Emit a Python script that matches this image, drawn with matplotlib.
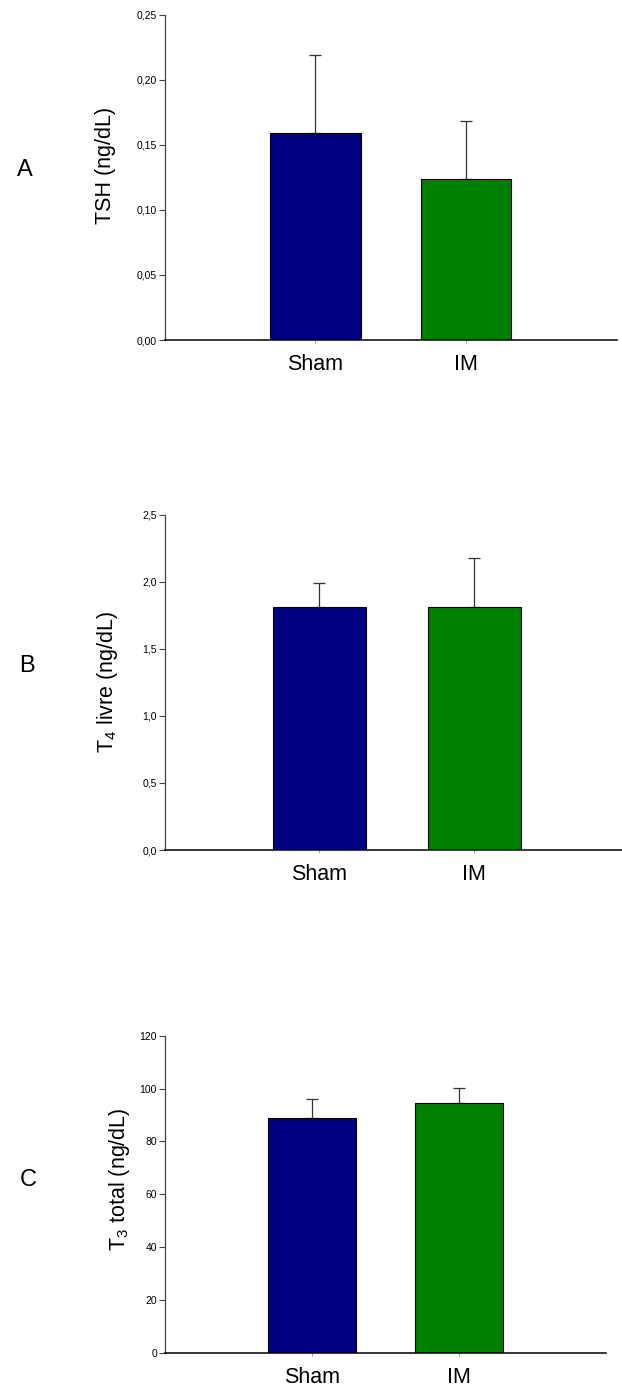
import numpy as np
import matplotlib.pyplot as plt

plt.rcParams['font.family'] = ['Liberation Sans', 'DejaVu Sans']
plt.rcParams['mathtext.fontset'] = 'custom'
plt.rcParams['mathtext.rm'] = 'Liberation Sans'
plt.rcParams['mathtext.it'] = 'Liberation Sans'
plt.rcParams['mathtext.default'] = 'regular'

# DADOS
groups = ['Sham', 'IM']
colors = ['#000080', '#008000']

tsh_mean = [0.159, 0.124]
tsh_err = [0.060, 0.044]

t4_mean = [1.81, 1.81]
t4_err = [0.18, 0.37]

t3_mean = [89.0, 94.4]
t3_err = [7.0, 5.7]

panels = [
    ('A', tsh_mean, tsh_err, 'TSH (ng/dL)', [0, 0.25], np.arange(0, 0.26, 0.05), '{:.2f}',
     [0.2645, 0.755, 0.7275, 0.2344], (105, 165), (25, 170)),
    ('B', t4_mean, t4_err, 'T$_4$ livre (ng/dL)', [0, 2.5], np.arange(0, 2.6, 0.5), '{:.1f}',
     [0.2645, 0.3876, 0.7468, 0.2414], (107, 682), (27, 666)),
    ('C', t3_mean, t3_err, 'T$_3$ total (ng/dL)', [0, 120], np.arange(0, 121, 20), '{:.0f}',
     [0.2645, 0.0252, 0.7098, 0.2286], (120, 1179), (28, 1180)),
]

W, H = 622, 1388
fig = plt.figure(figsize=(W / 100, H / 100), dpi=100)

for letter, means, errs, ylabel, ylim, yticks, fmt, rect, ylab_pos, let_pos in panels:
    ax = fig.add_axes(rect)
    x = np.arange(len(groups))
    ax.bar(x, means, width=0.6, color=colors, edgecolor='black', linewidth=0.8, zorder=2)
    ax.errorbar(x, means, yerr=[np.zeros(len(errs)), errs], fmt='none',
                ecolor='#333333', elinewidth=0.9, capsize=4, capthick=0.9, zorder=1)
    ax.set_xlim(-1, 2)
    ax.set_ylim(*ylim)
    ax.set_yticks(yticks)
    ax.set_yticklabels([fmt.format(v).replace('.', ',') for v in yticks], fontsize=7.5)
    ax.set_xticks(x)
    ax.set_xticklabels(groups, fontsize=15.5)
    ax.tick_params(axis='y', length=4, width=0.8, pad=1.5, color='#444444')
    ax.tick_params(axis='x', length=2, width=0.6, pad=8, color='#999999')
    for s in ['top', 'right']:
        ax.spines[s].set_visible(False)
    ax.spines['left'].set_color('#444444')
    ax.spines['left'].set_linewidth(0.9)
    ax.spines['bottom'].set_color('black')
    ax.spines['bottom'].set_linewidth(1.1)

    fig.text(ylab_pos[0] / W, 1 - ylab_pos[1] / H, ylabel, rotation=90,
             ha='center', va='center', fontsize=15.5)
    fig.text(let_pos[0] / W, 1 - let_pos[1] / H, letter, ha='center', va='center', fontsize=17)

fig.savefig('out.png', dpi=100)
